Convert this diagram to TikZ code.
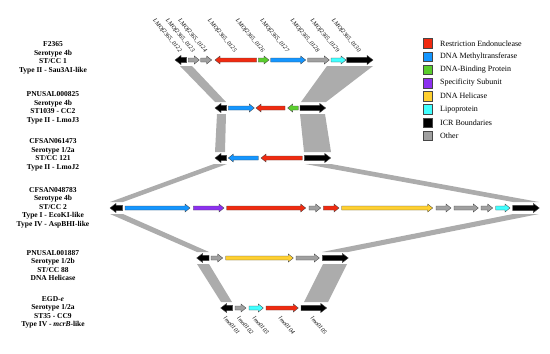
\documentclass[tikz,border=0pt]{standalone}
\usepackage{fontspec}
\setmainfont{Liberation Serif}
\definecolor{cred}{RGB}{240,42,16}
\definecolor{cblue}{RGB}{20,150,255}
\definecolor{cgreen}{RGB}{90,205,45}
\definecolor{cpurple}{RGB}{140,48,240}
\definecolor{cyellow}{RGB}{255,208,48}
\definecolor{ccyan}{RGB}{64,255,255}
\definecolor{cgray}{RGB}{160,160,160}
\definecolor{cband}{RGB}{172,172,172}
\definecolor{cline}{RGB}{70,70,70}
\tikzset{
  gene/.style={draw=cline,line width=0.35pt,line join=miter},
  band/.style={fill=cband,draw=none},
  strain/.style={align=center,font=\bfseries\fontsize{7.5}{8.5}\selectfont},
  toplab/.style={anchor=east,rotate=-50,inner sep=0.5pt,font=\itshape\fontsize{6}{6}\selectfont},
  botlab/.style={anchor=west,rotate=-48,inner sep=0.5pt,font=\itshape\fontsize{6}{6}\selectfont},
  legbox/.style={draw=cline,line width=0.4pt},
  legtext/.style={anchor=west,inner sep=0pt,font=\fontsize{8}{8}\selectfont}
}
% normal genes
\newcommand{\gR}[4]{\filldraw[gene,fill=#4] (#1,#3-2) -- (#2-5,#3-2) -- (#2-5,#3-4) -- (#2,#3) -- (#2-5,#3+4) -- (#2-5,#3+2) -- (#1,#3+2) -- cycle;}
\newcommand{\gL}[4]{\filldraw[gene,fill=#4] (#2,#3-2) -- (#1+5,#3-2) -- (#1+5,#3-4) -- (#1,#3) -- (#1+5,#3+4) -- (#1+5,#3+2) -- (#2,#3+2) -- cycle;}
% ICR boundary genes (black, thicker)
\newcommand{\bR}[3]{\filldraw[gene,fill=black] (#1,#3-2.6) -- (#2-6,#3-2.6) -- (#2-6,#3-4.6) -- (#2,#3) -- (#2-6,#3+4.6) -- (#2-6,#3+2.6) -- (#1,#3+2.6) -- cycle;}
\newcommand{\bL}[3]{\filldraw[gene,fill=black] (#2,#3-2.6) -- (#1+6,#3-2.6) -- (#1+6,#3-4.6) -- (#1,#3) -- (#1+6,#3+4.6) -- (#1+6,#3+2.6) -- (#2,#3+2.6) -- cycle;}
\begin{document}
\begin{tikzpicture}[x=1pt,y=-1pt]
\useasboundingbox (0,0) rectangle (550,354);
% synteny bands
\fill[band] (180,66) -- (192,66) -- (226,102) -- (215,102) -- cycle;
\fill[band] (327,66) -- (373,66) -- (326,102) -- (301,102) -- cycle;
\fill[band] (217,114) -- (226,114) -- (225,152) -- (215,152) -- cycle;
\fill[band] (300,114) -- (325,114) -- (331,152) -- (304,152) -- cycle;
\fill[band] (214,164) -- (227,164) -- (123,202) -- (110,202) -- cycle;
\fill[band] (305,164) -- (331,164) -- (539,202) -- (513,202) -- cycle;
\fill[band] (110,214) -- (123,214) -- (209,252) -- (197,252) -- cycle;
\fill[band] (513,214) -- (539,214) -- (348,252) -- (322,252) -- cycle;
\fill[band] (197,264) -- (209,264) -- (232,302) -- (221,302) -- cycle;
\fill[band] (323,264) -- (347,264) -- (328,302) -- (304,302) -- cycle;
% row 1: F2365
\bL{175}{186.7}{60}
\gR{188.3}{199.3}{60}{cgray}
\gR{200.7}{211.7}{60}{cgray}
\gL{215}{256.7}{60}{cred}
\gR{258.3}{269}{60}{cgreen}
\gR{270.7}{305.7}{60}{cblue}
\gR{307.7}{329.3}{60}{cgray}
\gR{331}{346}{60}{ccyan}
\bR{346.7}{373}{60}
% row 2: PNUSAL000825
\bL{215}{226.7}{108}
\gR{228.3}{254.3}{108}{cblue}
\gL{256}{285}{108}{cred}
\gL{287.7}{298.3}{108}{cgreen}
\bR{300}{325.7}{108}
% row 3: CFSAN061473
\bL{215}{226.7}{158}
\gL{228.3}{258.3}{158}{cblue}
\gL{261}{302.3}{158}{cred}
\bR{304.3}{330.7}{158}
% row 4: CFSAN048783
\bL{110}{122.7}{208}
\gR{125}{190}{208}{cblue}
\gR{193.3}{224}{208}{cpurple}
\gR{226.7}{305.7}{208}{cred}
\gR{309}{320.7}{208}{cgray}
\gR{323.3}{339}{208}{cred}
\gR{341.7}{432.7}{208}{cyellow}
\gR{436}{451}{208}{cgray}
\gR{454}{478.3}{208}{cgray}
\gR{481}{492.7}{208}{cgray}
\gR{495.7}{510}{208}{ccyan}
\bR{512.7}{539.3}{208}
% row 5: PNUSAL001887
\bL{196.7}{209}{258}
\gR{211}{222.7}{258}{cgray}
\gR{225.7}{293.3}{258}{cyellow}
\gR{296}{319.3}{258}{cgray}
\bR{322.3}{348.3}{258}
% row 6: EGD-e
\bL{220.7}{232.7}{308}
\gR{235}{246}{308}{cgray}
\gR{249}{263.3}{308}{ccyan}
\gR{266}{298.3}{308}{cred}
\bR{301}{326.7}{308}
% top gene labels
\node[toplab] (t122) at (181,52) {LMOf2365\_0122};
\node[toplab] (t123) at (193.8,52) {LMOf2365\_0123};
\node[toplab] (t124) at (206.2,52) {LMOf2365\_0124};
\node[toplab] (t125) at (235.8,52) {LMOf2365\_0125};
\node[toplab] (t126) at (263.7,52) {LMOf2365\_0126};
\node[toplab] (t127) at (288.2,52) {LMOf2365\_0127};
\node[toplab] (t128) at (318.5,52) {LMOf2365\_0128};
\node[toplab] (t129) at (338.5,52) {LMOf2365\_0129};
\node[toplab] (t130) at (359.8,52) {LMOf2365\_0130};
% bottom gene labels
\node[botlab] (b101) at (224.5,317) {lmo0101};
\node[botlab] (b102) at (238,317) {lmo0102};
\node[botlab] (b103) at (253.5,317) {lmo0103};
\node[botlab] (b104) at (279.5,317) {lmo0104};
\node[botlab] (b105) at (311.5,317) {lmo0105};
% strain labels
\node[strain] (s1) at (53,58) {F2365\\Serotype 4b\\ST/CC 1\\Type II - Sau3AI-like};
\node[strain] (s2) at (53,108) {PNUSAL000825\\Serotype 4b\\ST1039 - CC2\\Type II - LmoJ3};
\node[strain] (s3) at (53,155) {CFSAN061473\\Serotype 1/2a\\ST/CC 121\\Type II - LmoJ2};
\node[strain] (s4) at (53,207.5) {CFSAN048783\\Serotype 4b\\ST/CC 2\\Type I - EcoKI-like\\Type IV - AspBHI-like};
\node[strain] (s5) at (53,265.5) {PNUSAL001887\\Serotype 1/2b\\ST/CC 88\\DNA Helicase};
\node[strain] (s6) at (53,312.5) {EGD-\textit{e}\\Serotype 1/2a\\ST35 - CC9\\Type IV - \textit{mcrB}-like};
% legend
\foreach \c/\t [count=\i from 0] in {cred/Restriction Endonuclease,cblue/DNA Methyltransferase,cgreen/DNA-Binding Protein,cpurple/Specificity Subunit,cyellow/DNA Helicase,ccyan/Lipoprotein,black/ICR Boundaries,cgray/Other}{
  \filldraw[legbox,fill=\c] (422.7,{43.3+13.2*\i-4.8}) rectangle (432.3,{43.3+13.2*\i+4.8});
  \node[legtext] (leg\i) at (440,{43.3+13.2*\i}) {\t};
}
\end{tikzpicture}
\end{document}
